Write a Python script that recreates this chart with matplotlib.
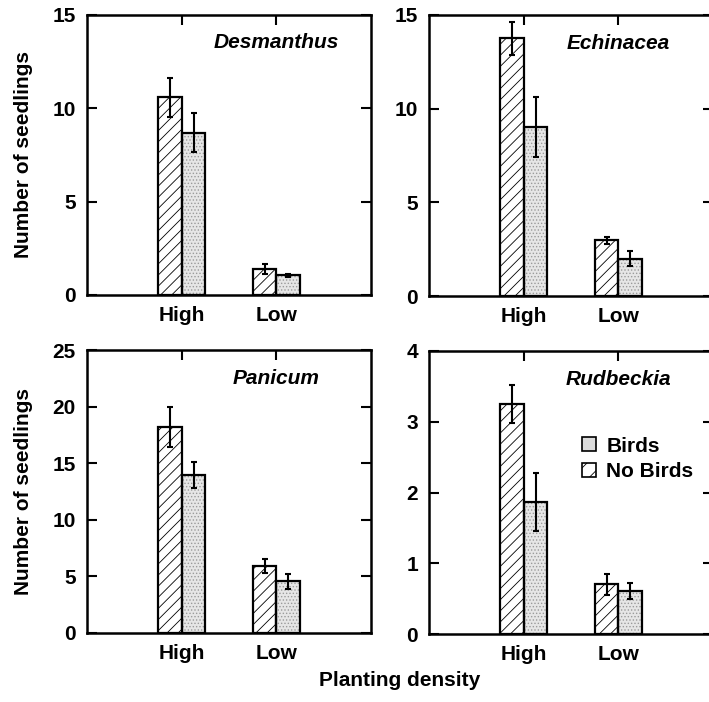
import matplotlib
matplotlib.use('Agg')
import matplotlib.pyplot as plt
from matplotlib.patches import Patch
import numpy as np

plt.rcParams['font.family'] = ['Liberation Sans', 'DejaVu Sans']
plt.rcParams['font.weight'] = 'bold'
plt.rcParams['hatch.linewidth'] = 0.6

# Data
species = ['Desmanthus', 'Echinacea', 'Panicum', 'Rudbeckia']
density = ['High', 'Low']

# hatched bars = No Birds, stippled bars = Birds
no_birds_mean = [[10.6, 1.4], [13.75, 2.97], [18.2, 5.9], [3.25, 0.70]]
no_birds_err = [[1.05, 0.25], [0.9, 0.18], [1.8, 0.6], [0.27, 0.15]]
birds_mean = [[8.7, 1.05], [9.0, 2.0], [14.0, 4.55], [1.86, 0.61]]
birds_err = [[1.05, 0.1], [1.6, 0.42], [1.15, 0.65], [0.41, 0.11]]

y_max = [15, 15, 25, 4]
y_step = [5, 5, 5, 1]

FS = 15

# axes boxes in pixels (left, top, right, bottom) of a 709x702 canvas
W, H = 709, 702
boxes = [(87, 15, 371, 295), (429, 15, 713, 296),
         (87, 350, 371, 633), (429, 351, 713, 634)]

fig = plt.figure(figsize=(W / 100, H / 100), dpi=100)

bw = 0.25
x = np.arange(1, len(density) + 1)


def draw_bar(ax, xs, h, face, hatch, hatchcol):
    ax.bar(xs, h, bw, color=face, edgecolor=hatchcol, hatch=hatch, linewidth=0, zorder=2)
    ax.bar(xs, h, bw, color='none', edgecolor='black', linewidth=1.6, zorder=3)


for i, name in enumerate(species):
    l, t, r, b = boxes[i]
    ax = fig.add_axes([l / W, 1 - b / H, (r - l) / W, (b - t) / H])

    draw_bar(ax, x - bw / 2, no_birds_mean[i], 'white', '///', 'black')
    draw_bar(ax, x + bw / 2, birds_mean[i], '#e6e6e6', '.....', '#9a9a9a')
    ax.errorbar(x - bw / 2, no_birds_mean[i], yerr=no_birds_err[i], fmt='none',
                ecolor='black', elinewidth=1.5, capsize=2, capthick=1.5, zorder=4)
    ax.errorbar(x + bw / 2, birds_mean[i], yerr=birds_err[i], fmt='none',
                ecolor='black', elinewidth=1.5, capsize=2, capthick=1.5, zorder=4)

    ax.set_xlim(0, 3)
    ax.set_ylim(0, y_max[i])
    ax.set_xticks(x)
    ax.set_xticklabels(density)
    ax.set_yticks(np.arange(0, y_max[i] + 0.1, y_step[i]))
    ax.tick_params(direction='in', length=7, width=1.5, labelsize=FS,
                   top=True, right=True, bottom=False)
    ax.tick_params(axis='y', pad=8)
    ax.tick_params(axis='x', pad=8)
    for s in ax.spines.values():
        s.set_linewidth(1.8)

    ax.text(2, y_max[i] * 0.9, name, ha='center', va='center',
            fontsize=FS, fontweight='bold', fontstyle='italic')

    if i % 2 == 0:
        ax.set_ylabel('Number of seedlings', fontsize=FS, fontweight='bold')
        ax.yaxis.set_label_coords(-0.19, 0.5)

    if name == 'Rudbeckia':
        handles = [Patch(facecolor='#dcdcdc', edgecolor='black', linewidth=1.2),
                   Patch(facecolor='white', edgecolor='black', hatch='//', linewidth=1.2)]
        ax.legend(handles, ['Birds', 'No Birds'], loc='upper left',
                  bbox_to_anchor=(0.54, 0.697), frameon=False, fontsize=FS,
                  handlelength=0.65, handleheight=0.65, handletextpad=0.5,
                  labelspacing=0.3, borderpad=0, borderaxespad=0)

fig.text(400 / W, 1 - 680 / H, 'Planting density', ha='center', va='center',
         fontsize=FS, fontweight='bold')

fig.savefig('out.png', dpi=100)
